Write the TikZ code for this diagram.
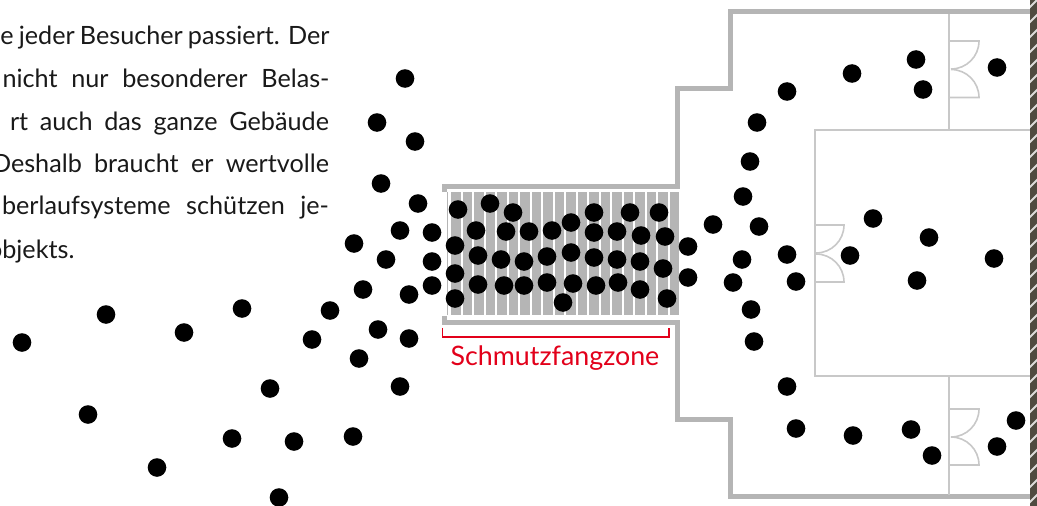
\documentclass[tikz,border=0pt]{standalone}
\usepackage{fontspec}
\setmainfont{Lato}
\definecolor{wallgray}{HTML}{B5B5B5}
\definecolor{thingray}{HTML}{C8C8C8}
\definecolor{zonered}{HTML}{E2001A}
\definecolor{stripdark}{HTML}{4F4B40}
\tikzset{
  bodytext/.style={inner sep=0pt,outer sep=0pt,font=\fontsize{25.2}{30}\selectfont,text=black!90},
  wall/.style={draw=wallgray,line width=5pt,line join=miter},
  thin wall/.style={draw=thingray,line width=1.6pt},
  bar/.style={fill=wallgray,draw=none},
  person/.style={fill=black,draw=none},
  zone/.style={draw=zonered,line width=1.2pt}
}
\begin{document}
\begin{tikzpicture}[x=1pt,y=-1pt]
\useasboundingbox (0,0) rectangle (1037,506);
% text
\node[bodytext,anchor=base east] at (329.5,45) {\makebox[329pt][s]{e jeder Besucher passiert. Der}};
\node[bodytext,anchor=base east] at (329.5,87) {\makebox[327pt][s]{nicht nur besonderer Belas-}};
\node[bodytext,anchor=base east] at (329,130) {\makebox[319pt][s]{rt auch das ganze Gebäude}};
\node[bodytext,anchor=base east] at (329,172) {\makebox[337pt][s]{Deshalb braucht er wertvolle}};
\node[bodytext,anchor=base east] at (329,214) {\makebox[327pt][s]{berlaufsysteme schützen je-}};
\node[bodytext,anchor=base west] at (-12,258) {objekts.};
% grate
\foreach \i in {0,...,19} \fill[bar] ({451+\i*11.5},192) rectangle ({460.5+\i*11.5},315);
\draw[wallgray,line width=0.8pt] (447.5,192) -- (447.5,315);
% walls
\draw[wall] (444,192) -- (444,186) -- (677,186) -- (677,88.5) -- (730,88.5) -- (730,11) -- (1031,11);
\draw[wall] (444,316) -- (444,322) -- (677,322) -- (677,419.5) -- (730,419.5) -- (730,496.5) -- (1031,496.5);
% inner room
\draw[thin wall] (1031,130) -- (815,130) -- (815,376) -- (1031,376);
\draw[thin wall] (949,14) -- (949,130);
\draw[thin wall] (949,376) -- (949,495);
% doors
\draw[thin wall] (949,41) -- (979,41) arc[start angle=0,end angle=90,radius=28];
\draw[thin wall] (949,97.5) -- (979,97.5) arc[start angle=0,end angle=-90,radius=28];
\draw[thin wall] (949,409) -- (979,409) arc[start angle=0,end angle=90,radius=28];
\draw[thin wall] (949,465) -- (979,465) arc[start angle=0,end angle=-90,radius=28];
\draw[thin wall] (815,225) -- (844,225) arc[start angle=0,end angle=90,radius=28];
\draw[thin wall] (815,282) -- (844,282) arc[start angle=0,end angle=-90,radius=28];
% texture strip
\fill[stripdark] (1030,0) rectangle (1037,506);
\begin{scope}
\clip (1030,0) rectangle (1037,506);
\foreach \i in {0,...,34} \draw[white!80!stripdark,line width=1.8pt] (1028,{\i*15+9}) -- (1039,{\i*15-2});
\end{scope}
% bracket and label
\draw[zone] (442.5,327.5) -- (442.5,337) -- (669,337) -- (669,327.5);
\node[inner sep=0pt,anchor=base,font=\fontsize{26.8}{30}\selectfont,text=zonered] (lab) at (555,365.5) {Schmutzfangzone};
% visitors
\begin{scope}[yshift=-0.5pt]
\foreach \x/\y in {405/78,377/122,415/141,381/183,418/203,400/230,432/232,354/243,386/259,432/261,363/289,409/294,432/285,330/310,312/339,378/329,409/338,359/358,400/386,270/388,242/308,184/332,106/314,22/342,88/414,157/467,232/438,294/441,353/436,279/497,
458/209,490/203,513/212,476/230,455/245,506/231,529/231,552/230,571/222,594/212,630/212,659/212,594/232,617/231,641/235,665/236,478/255,501/259,524/261,547/256,571/252,594/257,617/259,640/261,663/268,455/273,478/284,504/285,524/285,547/282,573/283,596/285,618/282,640/289,667/298,455/298,563/302,688/246,688/277,
713/224,757/122,787/91,852/73,750/161,743/196,759/226,742/259,733/282,751/309,754/341,787/254,796/281,850/255,873/218,929/237,917/280,994/258,787/386,796/428,853/435,911/429,932/455,997/446,1016/420,916/59,923/89,997/67}
  \fill[person] (\x,\y) circle[radius=9.3];
\end{scope}
\end{tikzpicture}
\end{document}
